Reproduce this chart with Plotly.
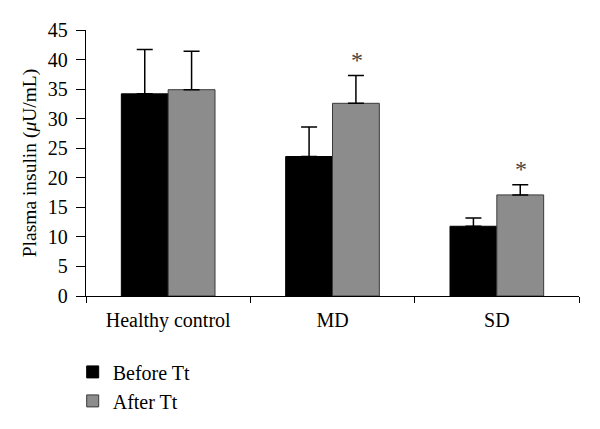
import plotly.graph_objects as go

groups = ["Healthy control", "MD", "SD"]
before_tt = [34.2, 23.6, 11.8]
before_err = [7.5, 5.0, 1.4]
after_tt = [34.9, 32.6, 17.1]
after_err = [6.5, 4.7, 1.7]
signif = ["", "*", "*"]

serif = "Liberation Serif"

fig = go.Figure()
fig.add_trace(go.Bar(
    x=groups, y=before_tt, name="Before Tt",
    marker=dict(color="black", line=dict(color="black", width=1)),
    error_y=dict(type="data", array=before_err, arrayminus=[0]*3, symmetric=False,
                 color="black", thickness=1.5, width=8),
))
fig.add_trace(go.Bar(
    x=groups, y=after_tt, name="After Tt",
    marker=dict(color="#8c8c8c", line=dict(color="#3a3a3a", width=1)),
    error_y=dict(type="data", array=after_err, arrayminus=[0]*3, symmetric=False,
                 color="black", thickness=1.5, width=8),
))

# significance marks above the after-treatment bars
for i, s in enumerate(signif):
    if s:
        fig.add_annotation(
            x=groups[i], y=after_tt[i] + after_err[i], text=s, showarrow=False,
            xshift=24, yshift=16, font=dict(family=serif, size=24, color="#444"),
        )

# page body adds an 8px offset, so margins are shifted to compensate
fig.update_layout(
    width=600, height=429,
    margin=dict(l=78, r=29, t=22, b=141, autoexpand=False),
    plot_bgcolor="white", paper_bgcolor="white",
    barmode="group", bargap=0.43, bargroupgap=0,
    font=dict(family=serif, size=20, color="black"),
    legend=dict(x=-0.027, y=-0.212, xanchor="left", yanchor="top",
                font=dict(family=serif, size=20), tracegroupgap=0,
                itemwidth=30, bgcolor="rgba(0,0,0,0)"),
    xaxis=dict(showline=True, linecolor="black", linewidth=1.3,
               ticks="outside", tickson="boundaries", ticklen=6, tickcolor="black",
               ticklabelstandoff=6, tickfont=dict(family=serif, size=20)),
    yaxis=dict(range=[0, 45], dtick=5, showline=True, linecolor="black", linewidth=1.3,
               ticks="outside", ticklen=9, tickcolor="black", showgrid=False,
               zeroline=False, ticklabelstandoff=4, tickfont=dict(family=serif, size=20),
               title=dict(text="Plasma insulin (<i>μ</i>U/mL)", standoff=6,
                          font=dict(family=serif, size=19.5))),
)

fig.write_html("out.html")
